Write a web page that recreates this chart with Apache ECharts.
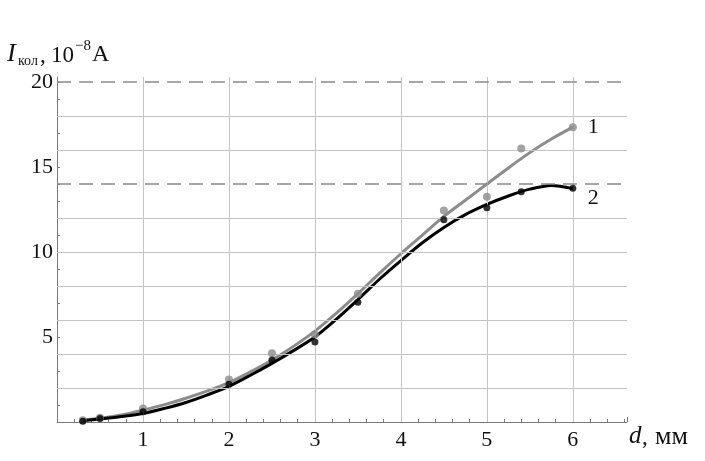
<!DOCTYPE html>
<html>
<head>
<meta charset="utf-8">
<script src="https://cdn.jsdelivr.net/npm/echarts@6/dist/echarts.min.js"></script>
<style>
  html, body { margin: 0; padding: 0; background: #ffffff; }
  #chart { width: 705px; height: 461px; }
</style>
</head>
<body>
<div id="chart"></div>
<script>
// Измеренные точки (d, мм ; I, 10^-8 A)
const pointsD = [0.3, 0.5, 1, 2, 2.5, 3, 3.5, 4.5, 5, 5.4, 6]
const points1 = [0.1, 0.25, 0.8, 2.5, 4.05, 5.15, 7.55, 12.45, 13.25, 16.1, 17.35]
const points2 = [0.05, 0.2, 0.6, 2.22, 3.65, 4.7, 7.05, 11.9, 12.6, 13.55, 13.76]

// Сглаживающие кривые
const curveD = [0.3, 0.5, 0.75, 1, 1.25, 1.5, 1.75, 2, 2.25, 2.5, 2.75, 3, 3.25, 3.5, 3.75, 4, 4.25, 4.5, 4.75, 5, 5.25, 5.5, 5.75, 6]
const curve1 = [0.12, 0.22, 0.42, 0.7, 1.02, 1.4, 1.83, 2.32, 2.95, 3.65, 4.45, 5.35, 6.4, 7.55, 8.75, 9.9, 11.0, 12.1, 13.05, 14.0, 14.95, 15.85, 16.65, 17.35]
const curve2 = [0.08, 0.18, 0.32, 0.5, 0.8, 1.15, 1.6, 2.1, 2.75, 3.45, 4.2, 5.0, 6.05, 7.2, 8.4, 9.5, 10.55, 11.45, 12.2, 12.8, 13.3, 13.7, 13.92, 13.73]

// Сетка и пунктирные уровни
const xGrid = [1, 2, 3, 4, 5, 6]
const yGrid = [2, 4, 6, 8, 10, 12, 16, 18]
const yDashed = [14, 20]
const yLabels = [5, 10, 15, 20]
const xLabels = [1, 2, 3, 4, 5, 6]

const COLORS = {
  gray: '#8c8c8c',
  black: '#000000',
  grid: '#c4c4c4',
  axis: '#7a7a7a',
  dash: '#8a8a8a',
  text: '#111111',
}
const FONT = '"Liberation Serif", "DejaVu Serif", serif'

const zip = (xs, ys) => xs.map((x, i) => [x, ys[i]])

const chart = echarts.init(document.getElementById('chart'), null, { renderer: 'canvas' })

const option = {
  animation: false,
  backgroundColor: '#ffffff',
  grid: { left: 57, right: 78, top: 77, bottom: 39 },
  xAxis: {
    type: 'value',
    min: 0,
    max: 6.63,
    interval: 1,
    axisLine: { lineStyle: { color: COLORS.axis, width: 1 } },
    axisTick: { show: true, inside: true, length: 5, lineStyle: { color: COLORS.axis } },
    minorTick: { show: true, splitNumber: 5, length: 3, lineStyle: { color: COLORS.axis } },
    axisLabel: {
      margin: 7,
      color: COLORS.text,
      fontFamily: FONT,
      fontSize: 22,
      showMaxLabel: false,
      formatter: (v) => (xLabels.includes(v) ? String(v) : ''),
    },
    splitLine: { show: false },
  },
  yAxis: {
    type: 'value',
    min: 0,
    max: 20.3,
    interval: 1,
    axisLine: { show: true, lineStyle: { color: COLORS.axis, width: 1 } },
    axisTick: { show: true, inside: true, length: 3, lineStyle: { color: COLORS.axis } },
    axisLabel: {
      margin: 4,
      color: COLORS.text,
      fontFamily: FONT,
      fontSize: 22,
      showMaxLabel: false,
      formatter: (v) => (yLabels.includes(v) ? String(v) : ''),
    },
    splitLine: { show: false },
  },
  graphic: [
    { type: 'text', left: 7, top: 41, style: { text: 'I', font: 'italic 26px ' + FONT, fill: COLORS.text } },
    { type: 'text', left: 18, top: 54, style: { text: 'кол', font: '14px ' + FONT, fill: COLORS.text } },
    { type: 'text', left: 40, top: 44, style: { text: ',', font: '23px ' + FONT, fill: COLORS.text } },
    { type: 'text', left: 51, top: 44, style: { text: '10', font: '23px ' + FONT, fill: COLORS.text } },
    { type: 'text', left: 75, top: 39, style: { text: '−8', font: '15px ' + FONT, fill: COLORS.text } },
    { type: 'text', left: 92, top: 43, style: { text: 'A', font: '24px ' + FONT, fill: COLORS.text } },
    { type: 'text', left: 629, top: 424, style: { text: 'd', font: 'italic 25px ' + FONT, fill: COLORS.text } },
    { type: 'text', left: 642, top: 426, style: { text: ',', font: '23px ' + FONT, fill: COLORS.text } },
    { type: 'text', left: 655, top: 424, style: { text: 'мм', font: '26px ' + FONT, fill: COLORS.text } },
  ],
  series: [
    {
      name: 'grid',
      type: 'line',
      data: [],
      silent: true,
      markLine: {
        silent: true,
        symbol: 'none',
        label: { show: false },
        lineStyle: { color: COLORS.grid, width: 1, type: 'solid' },
        data: [
          ...xGrid.map((v) => ({ xAxis: v })),
          ...yGrid.map((v) => ({ yAxis: v })),
        ],
      },
    },
    {
      name: 'dashed',
      type: 'line',
      data: [],
      silent: true,
      markLine: {
        silent: true,
        symbol: 'none',
        label: { show: false },
        lineStyle: { color: COLORS.dash, width: 1.5, type: [14, 8] },
        data: yDashed.map((v) => ({ yAxis: v })),
      },
    },
    {
      name: '1',
      type: 'line',
      data: zip(curveD, curve1),
      smooth: 0.3,
      showSymbol: false,
      lineStyle: { color: COLORS.gray, width: 3 },
      endLabel: {
        show: true,
        formatter: '1',
        offset: [7, 0],
        color: COLORS.text,
        fontFamily: FONT,
        fontSize: 22,
      },
      z: 3,
    },
    {
      name: '2',
      type: 'line',
      data: zip(curveD, curve2),
      smooth: 0.3,
      showSymbol: false,
      lineStyle: { color: COLORS.black, width: 3 },
      endLabel: {
        show: true,
        formatter: '2',
        offset: [7, 10],
        color: COLORS.text,
        fontFamily: FONT,
        fontSize: 22,
      },
      z: 4,
    },
    {
      name: 'p1',
      type: 'scatter',
      data: zip(pointsD, points1),
      symbolSize: 8,
      itemStyle: { color: COLORS.gray },
      z: 5,
    },
    {
      name: 'p2',
      type: 'scatter',
      data: zip(pointsD, points2),
      symbolSize: 7,
      itemStyle: { color: COLORS.black },
      z: 6,
    },
  ],
}

chart.setOption(option)
</script>
</body>
</html>
